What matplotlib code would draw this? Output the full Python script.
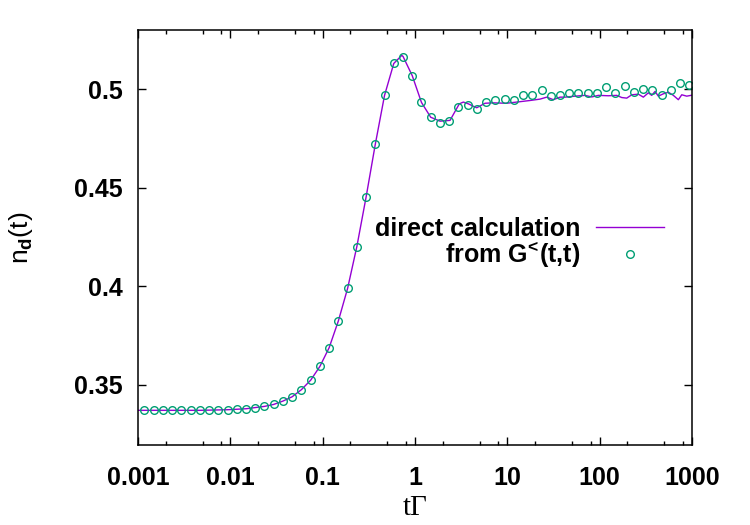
import numpy as np
import matplotlib
matplotlib.use("Agg")
from matplotlib import pyplot as plt
from matplotlib.ticker import FixedLocator, NullFormatter

plt.rcParams['font.family'] = ['Liberation Sans', 'DejaVu Sans']
plt.rcParams['font.weight'] = 'bold'
plt.rcParams['mathtext.fontset'] = 'custom'
plt.rcParams['mathtext.rm'] = 'Liberation Sans:bold'
plt.rcParams['mathtext.bf'] = 'Liberation Sans:bold'
plt.rcParams['mathtext.default'] = 'rm'

#%% data
# "from G<(t,t)" points
t_pts = [0.001175, 0.001479, 0.001862, 0.002344, 0.002951, 0.003715, 0.004677,
         0.005888, 0.007413, 0.009333, 0.01175, 0.01479, 0.01862, 0.02344,
         0.02951, 0.03715, 0.04677, 0.05888, 0.07413, 0.09333, 0.1175, 0.1479,
         0.1862, 0.2344, 0.2951, 0.3715, 0.4677, 0.5888, 0.7413, 0.9333, 1.175,
         1.479, 1.862, 2.344, 2.951, 3.715, 4.677, 5.888, 7.413, 9.333, 11.75,
         14.79, 18.62, 23.44, 29.51, 37.15, 46.77, 58.88, 74.13, 93.33, 117.5,
         147.9, 186.2, 234.4, 295.1, 371.5, 467.7, 588.8, 741.3, 933.3]
n_pts = [0.3371, 0.3371, 0.3371, 0.3371, 0.3371, 0.3371, 0.3371,
         0.3372, 0.3372, 0.3374, 0.3376, 0.3379, 0.3384, 0.3391,
         0.3401, 0.3418, 0.3440, 0.3476, 0.3524, 0.3594, 0.3689, 0.3825,
         0.3990, 0.4202, 0.4453, 0.4722, 0.4970, 0.5132, 0.5164, 0.5070, 0.4934,
         0.4859, 0.4832, 0.4839, 0.4910, 0.4922, 0.4903, 0.4936, 0.4949, 0.4953, 0.4949,
         0.4973, 0.4973, 0.4997, 0.4966, 0.4973, 0.4980, 0.4980, 0.4980, 0.4982, 0.5014,
         0.4983, 0.5020, 0.4985, 0.5004, 0.4999, 0.4970, 0.4997, 0.5034, 0.5024]

# direct calculation (line)
t_line = [0.001, 0.001175, 0.004677, 0.009333, 0.01479, 0.02344, 0.02951, 0.03715,
          0.04677, 0.05888, 0.07413, 0.09333, 0.1175, 0.1479, 0.1862, 0.2344,
          0.2951, 0.3715, 0.4677, 0.5888, 0.718, 0.7413, 0.9333, 1.175, 1.479,
          1.866, 2.394, 3.018, 3.336, 3.778, 4.659, 5.731, 7.048, 9.845, 12.64,
          17.61, 22.59, 26.70, 31.47, 37.20, 42.14, 54.08, 69.38, 82.0, 96.7,
          124.1, 153.0, 173.3, 196.3, 222.4, 262.2, 297.0, 336.5, 366.1, 397.7,
          431.8, 489.2, 554.0, 627.9, 711.0, 774.0, 876.6, 1000.0]
n_line = [0.3371, 0.3371, 0.3371, 0.3374, 0.3379, 0.3391, 0.3401, 0.3418,
          0.3440, 0.3476, 0.3524, 0.3594, 0.3689, 0.3825, 0.3990, 0.4202,
          0.4453, 0.4722, 0.4970, 0.5132, 0.5173, 0.5168, 0.5070, 0.4934, 0.4859,
          0.4839, 0.4843, 0.4927, 0.4936, 0.4927, 0.4907, 0.4930, 0.4932, 0.4930, 0.4936,
          0.4944, 0.4951, 0.4961, 0.4948, 0.4961, 0.4961, 0.4966, 0.4970, 0.4962, 0.4970,
          0.4968, 0.4970, 0.4959, 0.4956, 0.4973, 0.4976, 0.4961, 0.4983, 0.4970, 0.4990,
          0.4966, 0.4978, 0.4986, 0.4970, 0.4948, 0.4973, 0.4966, 0.4971]

x_ticks = [0.001, 0.01, 0.1, 1, 10, 100, 1000]
x_ticklabels = ["0.001", "0.01", "0.1", "1", "10", "100", "1000"]
y_ticks = [0.35, 0.4, 0.45, 0.5]
y_ticklabels = ["0.35", "0.4", "0.45", "0.5"]

#%%
fig = plt.figure(figsize=(7.5, 5.25), dpi=100)
ax = fig.add_axes([0.184, 0.1524, 0.7387, 0.7905])

ax.plot(t_line, n_line, color="#9400D3", lw=1.0, label="direct calculation")
ax.plot(t_pts, n_pts, ls="none", marker="o", ms=5.5, mfc="none",
        mec="#009E73", mew=1.0, label=r"from G$^{\!<\!}$(t,t)")

ax.set_xscale("log")
ax.set_xlim(0.001, 1000)
ax.set_ylim(0.3195, 0.5302)

ax.xaxis.set_major_locator(FixedLocator(x_ticks))
ax.set_xticklabels(x_ticklabels)
minors = [m * d for d in [0.001, 0.01, 0.1, 1, 10, 100] for m in (2, 5, 8)]
ax.xaxis.set_minor_locator(FixedLocator(minors))
ax.xaxis.set_minor_formatter(NullFormatter())
ax.set_yticks(y_ticks)
ax.set_yticklabels(y_ticklabels)

ax.tick_params(which="both", direction="in", top=True, right=True,
               labelsize=18, width=1.0)
ax.tick_params(which="major", length=6)
ax.tick_params(which="minor", length=3)
ax.tick_params(axis="y", pad=11)
ax.tick_params(axis="x", pad=15)
for s in ax.spines.values():
    s.set_linewidth(1.1)

ax.set_xlabel("t\u0393", family="Liberation Serif", fontweight="normal",
              fontsize=21, labelpad=4)
ax.set_ylabel(r"n$_{\rm d}$(t)", fontsize=19, labelpad=28)

leg = ax.legend(loc="center right", bbox_to_anchor=(0.95, 0.487), frameon=False,
                markerfirst=False, fontsize=18, handlelength=2.75,
                handletextpad=0.6, labelspacing=-0.05, borderpad=0,
                borderaxespad=0)
leg._legend_box.get_children()[1].get_children()[0].align = "right"

fig.savefig("out.png", dpi=100)
